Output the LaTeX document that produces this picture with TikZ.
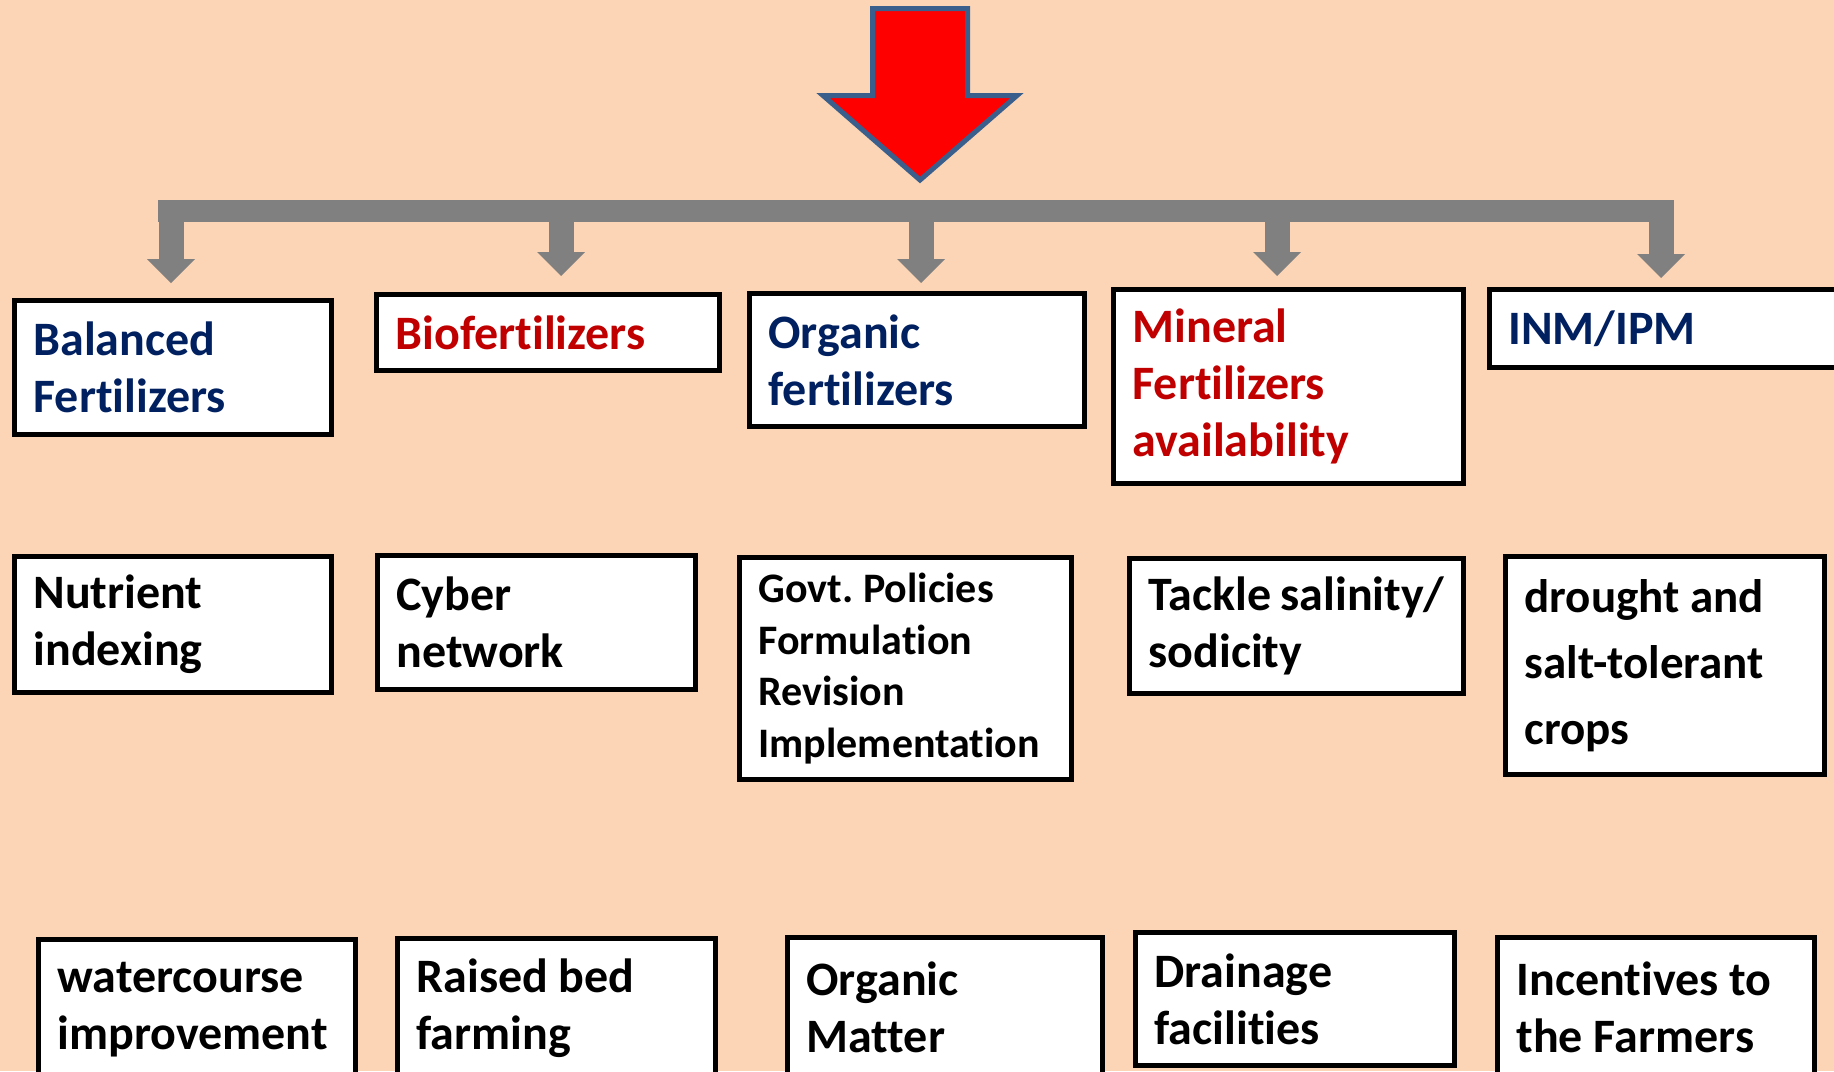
\documentclass[tikz,border=0pt]{standalone}
\usepackage{fontspec}
\setmainfont{Carlito}[Ligatures=NoCommon]
\usetikzlibrary{arrows.meta}
\frenchspacing
\definecolor{peach}{HTML}{FBD5B5}
\definecolor{navy}{HTML}{002060}
\definecolor{darkred}{HTML}{C00000}
\definecolor{pipegray}{HTML}{808080}
\definecolor{edgeblue}{HTML}{3B5F8C}
\tikzset{
	box/.style={draw=black, fill=white, line width=2.5pt, anchor=north west, outer sep=0pt,
		align=flush left, inner xsep=9.5pt, inner ysep=0pt, font=\bfseries\fontsize{24}{28.5}\selectfont},
	smalltext/.style={font=\bfseries\fontsize{21}{25.75}\selectfont},
	loosetext/.style={font=\bfseries\fontsize{23.5}{33}\selectfont},
	pipe/.style={draw=pipegray, line width=11pt},
	drop/.style={draw=pipegray, line width=12.5pt, -{Triangle[width=24pt,length=12pt,line width=0pt]}}
}
\begin{document}
\begin{tikzpicture}[x=0.5pt, y=-0.5pt]
		\useasboundingbox (0,0) rectangle (1834,1071);
		\fill[peach] (0,0) rectangle (1834,1071);
		\clip (0,0) rectangle (1834,1071);
		% Red arrow on top
		\filldraw[fill=red, draw=edgeblue, line width=2.5pt] (872.5,8.5) -- (967.5,8.5) -- (967.5,95.5)
			-- (1017,95.5) -- (920,180) -- (823,95.5) -- (872.5,95.5) -- cycle;
		% First row
		\node[box, text=navy, text width=139.5pt, minimum height=67pt] (bal) at (14.5,300.5) {Balanced\\Fertilizers};
		\node[box, text=darkred, text width=152.5pt, minimum height=38pt] (bio) at (376.5,294.5) {Biofertilizers};
		\node[box, text=navy, text width=148.5pt, minimum height=66.5pt] (org) at (749.5,293.5) {Organic\\fertilizers};
		\node[box, text=darkred, text width=156pt, minimum height=97pt] (mnl) at (1113.5,289.5) {Mineral\\Fertilizers\\availability};
		\node[box, text=navy, text width=191pt, minimum height=39pt] (inm) at (1489.5,289.5) {INM/IPM};
		% Second row
		\node[box, text width=139.5pt, minimum height=68pt] (nut) at (14.5,556.5) {Nutrient\\indexing};
		\node[box, text width=140pt, minimum height=67pt] (cyb) at (377.5,555.5) {Cyber\\network};
		\node[box, smalltext, text width=147pt, minimum height=111pt] (gov) at (739.5,557.5) {Govt. Policies\\Formulation\\Revision\\Implementation};
		\node[box, text width=148pt, minimum height=67.5pt] (tck) at (1129.5,558.5) {Tackle~salinity/\\sodicity};
		\node[box, loosetext, text width=140.5pt, minimum height=109pt] (drt) at (1505.5,556.5) {drought~and\\salt-tolerant\\crops};
		% Third row
		\node[box, text width=139.5pt, minimum height=70pt] (wat) at (38.5,939.5) {watercourse\\improvement};
		\node[box, text width=140pt, minimum height=70pt] (rbf) at (397.5,938.5) {Raised~bed\\farming};
		\node[box, text width=138.5pt, minimum height=70pt] (orm) at (787.5,937.5) {Organic\\Matter};
		\node[box, text width=140.5pt, minimum height=66.5pt] (drn) at (1135.5,932.5) {Drainage\\facilities};
		\node[box, text width=139.5pt, minimum height=70pt] (inc) at (1497.5,937.5) {Incentives~to\\the~Farmers};
		% Gray bar and drops
		\coordinate (bl) at (158,211);
		\coordinate (br) at (1673,211);
		\coordinate (t1) at (171,200);
		\coordinate (t2) at (561,200);
		\coordinate (t3) at (921,200);
		\coordinate (t4) at (1277,200);
		\coordinate (t5) at (1661,200);
		\draw[pipe] (bl) -- (br);
		\draw[drop, shorten >=8.75pt] (t1) -- (t1 |- bal.north);
		\draw[drop, shorten >=9.25pt] (t2) -- (t2 |- bio.north);
		\draw[drop, shorten >=5.25pt] (t3) -- (t3 |- org.north);
		\draw[drop, shorten >=6.75pt] (t4) -- (t4 |- mnl.north);
		\draw[drop, shorten >=5.75pt] (t5) -- (t5 |- inm.north);
	\end{tikzpicture}
\end{document}
